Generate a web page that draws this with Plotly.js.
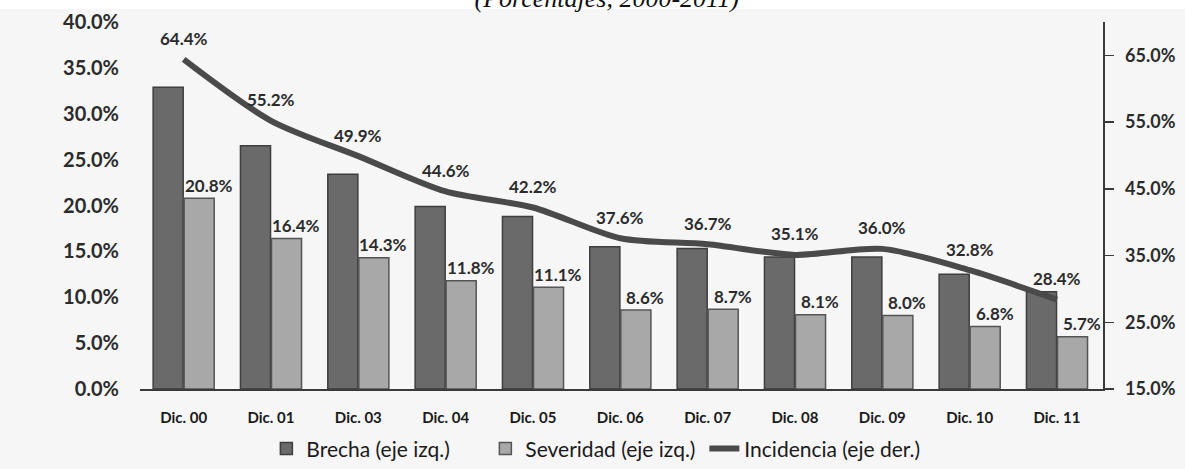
<!DOCTYPE html>
<html>
<head>
<meta charset="utf-8">
<script src="https://cdn.plot.ly/plotly-3.0.1.min.js"></script>
<style>
html,body{margin:0;padding:0;background:#ffffff;}
#chart{width:1185px;height:469px;}
</style>
</head>
<body>
<div id="chart"></div>
<script>
// ---- data ----
var categories = ["Dic. 00","Dic. 01","Dic. 03","Dic. 04","Dic. 05","Dic. 06","Dic. 07","Dic. 08","Dic. 09","Dic. 10","Dic. 11"];
var brecha     = [32.9, 26.5, 23.4, 19.9, 18.8, 15.5, 15.3, 14.4, 14.4, 12.5, 10.6];
var severidad  = [20.8, 16.4, 14.3, 11.8, 11.1, 8.6, 8.7, 8.1, 8.0, 6.8, 5.7];
var incidencia = [64.4, 55.2, 49.9, 44.6, 42.2, 37.6, 36.7, 35.1, 36.0, 32.8, 28.4];
var leftTicks  = [0, 5, 10, 15, 20, 25, 30, 35, 40];
var rightTicks = [15, 25, 35, 45, 55, 65];
var titleText  = "(Porcentajes, 2000-2011)";
var names = ["Brecha (eje izq.)", "Severidad (eje izq.)", "Incidencia (eje der.)"];

function pct(v){ return v.toFixed(1) + "%"; }

var labelFont = {family: "Lato, 'Open Sans', sans-serif", size: 17, color: "#2b2b2b", weight: "bold"};

var traces = [
  {
    type: "bar", name: names[0], x: categories, y: brecha, yaxis: "y",
    marker: {color: "#6a6a6a", line: {color: "#3e3e3e", width: 1.5}},
    hoverinfo: "skip"
  },
  {
    type: "bar", name: names[1], x: categories, y: severidad, yaxis: "y",
    marker: {color: "#a8a8a8", line: {color: "#555555", width: 1.5}},
    hoverinfo: "skip"
  },
  {
    type: "scatter", mode: "lines", name: names[2], x: categories, y: incidencia, yaxis: "y2",
    line: {color: "#4a4a4a", width: 6, shape: "spline", smoothing: 0.8},
    hoverinfo: "skip"
  }
];

var annotations = [];
severidad.forEach(function(v, i){
  annotations.push({
    x: categories[i], y: v, xref: "x", yref: "y",
    text: pct(v), showarrow: false, xshift: 25, yshift: 13,
    font: labelFont
  });
});
incidencia.forEach(function(v, i){
  annotations.push({
    x: categories[i], y: v, xref: "x", yref: "y2",
    text: pct(v), showarrow: false, yshift: 21,
    font: labelFont
  });
});

var axisFont = {family: "Lato, 'Open Sans', sans-serif", size: 20, color: "#2b2b2b", weight: "bold"};
var axisFont2 = {family: "Lato, 'Open Sans', sans-serif", size: 18, color: "#2b2b2b", weight: "bold"};

var layout = {
  width: 1185, height: 469,
  paper_bgcolor: "#f6f6f6",
  plot_bgcolor: "#f6f6f6",
  margin: {l: 140, r: 82, t: 22, b: 80, pad: 0},
  title: {
    text: titleText,
    font: {family: "'Liberation Serif', 'Times New Roman', serif", size: 26, style: "italic", color: "#111111"},
    x: 0.512, xref: "container", xanchor: "center",
    y: 0.985, yref: "container", yanchor: "bottom"
  },
  barmode: "group",
  bargap: 0.29,
  bargroupgap: 0.03,
  showlegend: true,
  legend: {
    orientation: "h", x: 0.502, xref: "container", xanchor: "center",
    y: 0.043, yref: "container", yanchor: "middle",
    font: {family: "Lato, 'Open Sans', sans-serif", size: 21, color: "#1a1a1a"},
    bgcolor: "rgba(0,0,0,0)", itemwidth: 30, tracegroupgap: 0,
    entrywidth: 174
  },
  xaxis: {
    type: "category",
    showline: true, linecolor: "#3a3a3a", linewidth: 1.5,
    ticks: "", showgrid: false, zeroline: false,
    tickfont: {family: "Lato, 'Open Sans', sans-serif", size: 15, color: "#1a1a1a", weight: "bold"},
    ticklabelstandoff: 14,
    fixedrange: true, automargin: false
  },
  yaxis: {
    range: [0, 40], tickvals: leftTicks, ticktext: leftTicks.map(pct),
    showline: false, showgrid: false, zeroline: false, ticks: "",
    tickfont: axisFont, ticklabelstandoff: 20,
    fixedrange: true, automargin: false
  },
  yaxis2: {
    range: [15, 70], tickvals: rightTicks, ticktext: rightTicks.map(pct),
    overlaying: "y", side: "right",
    showline: true, linecolor: "#3a3a3a", linewidth: 1.5,
    ticks: "outside", ticklen: 9, tickwidth: 1.5, tickcolor: "#3a3a3a",
    showgrid: false, zeroline: false,
    tickfont: axisFont2, ticklabelstandoff: 8,
    fixedrange: true, automargin: false
  },
  shapes: [
    {type: "rect", xref: "paper", yref: "paper", x0: -0.2, x1: 1.2, y0: 1.0354, y1: 1.2,
     fillcolor: "#ffffff", line: {width: 0}, layer: "below"}
  ],
  annotations: annotations
};

Plotly.newPlot("chart", traces, layout, {displayModeBar: false, staticPlot: true});
</script>
</body>
</html>
